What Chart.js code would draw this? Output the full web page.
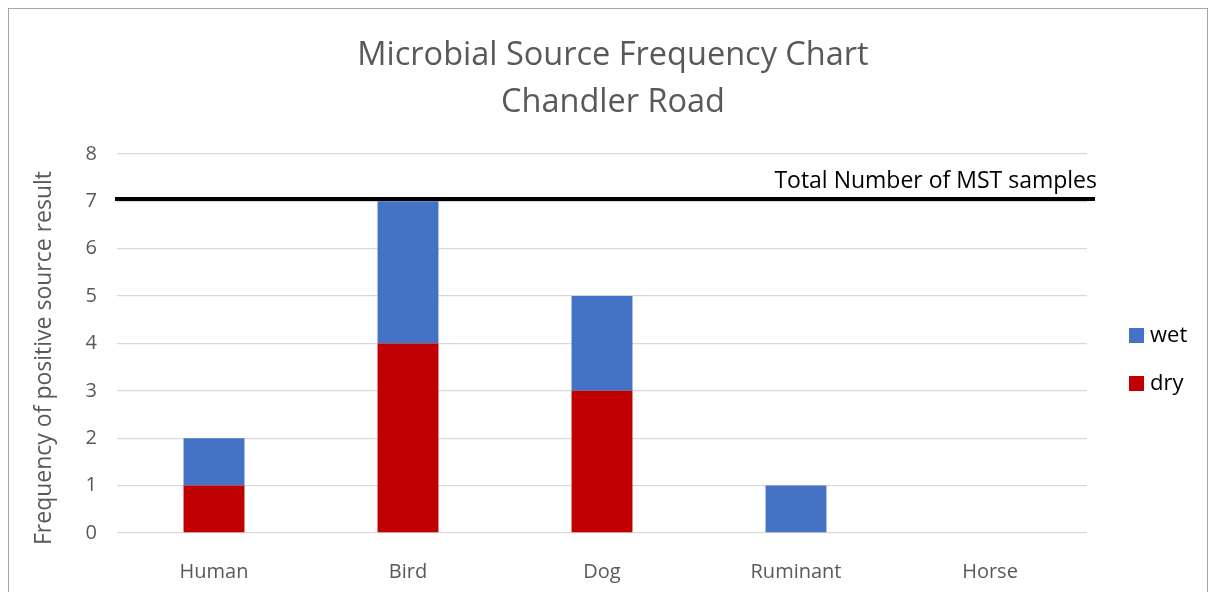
<!DOCTYPE html>
<html>
<head>
<meta charset="utf-8">
<script src="https://cdn.jsdelivr.net/npm/chart.js@4/dist/chart.umd.min.js"></script>
<style>
  body { margin: 0; background: #fff; }
  canvas { display: block; }
</style>
</head>
<body>
<canvas id="chart" width="1209" height="592"></canvas>
<script>
let sources = ['Human', 'Bird', 'Dog', 'Ruminant', 'Horse'];
let dryCounts = [1, 4, 3, 0, 0];
let wetCounts = [1, 3, 2, 1, 0];
let totalSamples = 7.05;  // drawn just above the 7 gridline
let titleLines = ['Microbial Source Frequency Chart', 'Chandler Road'];
let yTitle = 'Frequency of positive source result';

const FONT = "'Open Sans', 'Noto Sans', sans-serif";
const GREY = '#595959';

// frame round the whole chart, like the spreadsheet chart border
let framePlugin = {
	id: 'frame',
	beforeDraw: (chart) => {
		let ctx = chart.ctx;
		ctx.save();
		ctx.strokeStyle = '#a6a6a6';
		ctx.lineWidth = 1;
		ctx.strokeRect(8.5, 8.5, chart.width - 10, chart.height + 10);
		ctx.restore();
	},
};

// y axis title, sits a little below the middle of the plot like the original
let yTitlePlugin = {
	id: 'yTitle',
	afterDraw: (chart) => {
		let ctx = chart.ctx;
		let area = chart.chartArea;
		ctx.save();
		ctx.translate(44, (area.top + area.bottom) / 2 + 14.5);
		ctx.rotate(-Math.PI / 2);
		ctx.fillStyle = GREY;
		ctx.font = '23px ' + FONT;
		ctx.textAlign = 'center';
		ctx.textBaseline = 'middle';
		ctx.fillText(yTitle, 0, 0);
		ctx.restore();
	},
};

// the black "total samples" line and its label
let totalLinePlugin = {
	id: 'totalLine',
	afterDatasetsDraw: (chart) => {
		let ctx = chart.ctx;
		let area = chart.chartArea;
		let y = chart.scales.y.getPixelForValue(totalSamples);
		ctx.save();
		ctx.strokeStyle = '#000';
		ctx.lineWidth = 4;
		ctx.beginPath();
		ctx.moveTo(area.left - 2, y);
		ctx.lineTo(area.right + 8, y);
		ctx.stroke();
		ctx.fillStyle = '#000';
		ctx.font = '23px ' + FONT;
		ctx.textAlign = 'right';
		ctx.textBaseline = 'alphabetic';
		ctx.fillText('Total Number of MST samples', area.right + 10, y - 11);
		ctx.restore();
	},
};

// legend on the right, wet above dry
let sideLegendPlugin = {
	id: 'sideLegend',
	afterDraw: (chart) => {
		let ctx = chart.ctx;
		let sets = chart.data.datasets.slice().reverse();
		let x = chart.chartArea.right + 42;
		let y0 = 335.5;
		ctx.save();
		ctx.font = '22px ' + FONT;
		ctx.textBaseline = 'middle';
		ctx.textAlign = 'left';
		sets.forEach((ds, i) => {
			let y = y0 + i * 48;
			ctx.fillStyle = ds.backgroundColor;
			ctx.fillRect(x, y - 7.5, 15, 15);
			ctx.fillStyle = '#000';
			ctx.fillText(ds.label, x + 21, y);
		});
		ctx.restore();
	},
};

let ctx = document.getElementById('chart').getContext('2d');
let data = {
	labels: sources,
	datasets: [{
		label: 'dry',
		data: dryCounts,
		backgroundColor: '#c00000',
	}, {
		label: 'wet',
		data: wetCounts,
		backgroundColor: '#4472c4',
	}],
};
let chart = new Chart(ctx, {
	type: 'bar',
	data,
	options: {
		responsive: false,
		animation: false,
		layout: { padding: { left: 17, right: 0, top: 0, bottom: 0 } },
		datasets: {
			bar: { categoryPercentage: 1, barPercentage: 0.314, borderWidth: 0 },
		},
		plugins: {
			legend: { display: false },
			tooltip: { enabled: false },
			title: {
				display: true,
				text: titleLines,
				color: GREY,
				font: { family: FONT, size: 32.5, weight: 'normal', lineHeight: 1.446 },
				padding: { top: 32.5, bottom: 27.5 },
			},
		},
		scales: {
			x: {
				stacked: true,
				grid: { display: false },
				border: { display: false },
				ticks: { color: GREY, font: { family: FONT, size: 20 }, padding: 19 },
				afterFit: (scale) => { scale.height = 59; },
			},
			y: {
				stacked: true,
				min: 0,
				max: 8,
				grid: { color: '#d9d9d9', lineWidth: 1.3, drawTicks: false },
				border: { display: false },
				ticks: { stepSize: 1, color: GREY, font: { family: FONT, size: 20 }, padding: 20 },
				afterFit: (scale) => { scale.width = 100; },
			},
			// empty axis that keeps room for the legend on the right
			legendRoom: {
				position: 'right',
				min: 0,
				max: 8,
				grid: { display: false },
				border: { display: false },
				ticks: { display: false },
				afterFit: (scale) => { scale.width = 122; },
			},
		},
	},
	plugins: [framePlugin, yTitlePlugin, totalLinePlugin, sideLegendPlugin],
});
</script>
</body>
</html>
